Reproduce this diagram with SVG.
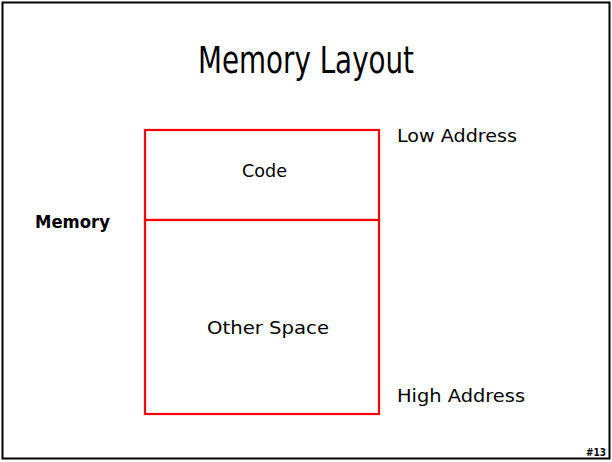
<svg xmlns="http://www.w3.org/2000/svg" width="612" height="462" viewBox="0 0 612 462">
<style>
.t{font-family:"DejaVu Sans","Liberation Sans",sans-serif;fill:#000}
.lbl{font-size:18px}
.box{fill:#fff;stroke:#ff0000;stroke-width:2.2}
</style>
<rect x="0" y="0" width="612" height="462" fill="#fff"/>
<rect x="2.5" y="2.5" width="607" height="456" fill="none" stroke="#000" stroke-width="2"/>
<text class="t" x="306" y="73" font-size="38" text-anchor="middle" textLength="216" lengthAdjust="spacingAndGlyphs">Memory Layout</text>
<g id="code">
<rect class="box" x="145" y="130" width="234" height="90"/>
<text class="t lbl" x="264.5" y="177" text-anchor="middle" textLength="45" lengthAdjust="spacingAndGlyphs">Code</text>
</g>
<g id="other">
<rect class="box" x="145" y="220" width="234" height="194"/>
<text class="t lbl" x="268" y="334" text-anchor="middle" textLength="122" lengthAdjust="spacingAndGlyphs">Other Space</text>
</g>
<g id="memory">
<text class="t" x="35" y="228" font-size="17" font-weight="bold" textLength="75" lengthAdjust="spacingAndGlyphs">Memory</text>
</g>
<g id="low">
<text class="t lbl" x="397" y="142" textLength="120" lengthAdjust="spacingAndGlyphs">Low Address</text>
</g>
<g id="high">
<text class="t lbl" x="397" y="402" textLength="128" lengthAdjust="spacingAndGlyphs">High Address</text>
</g>
<text class="t" x="606" y="456" font-size="10" font-weight="bold" text-anchor="end" textLength="20" lengthAdjust="spacingAndGlyphs">#13</text>
<g id="connectors"></g>
</svg>
